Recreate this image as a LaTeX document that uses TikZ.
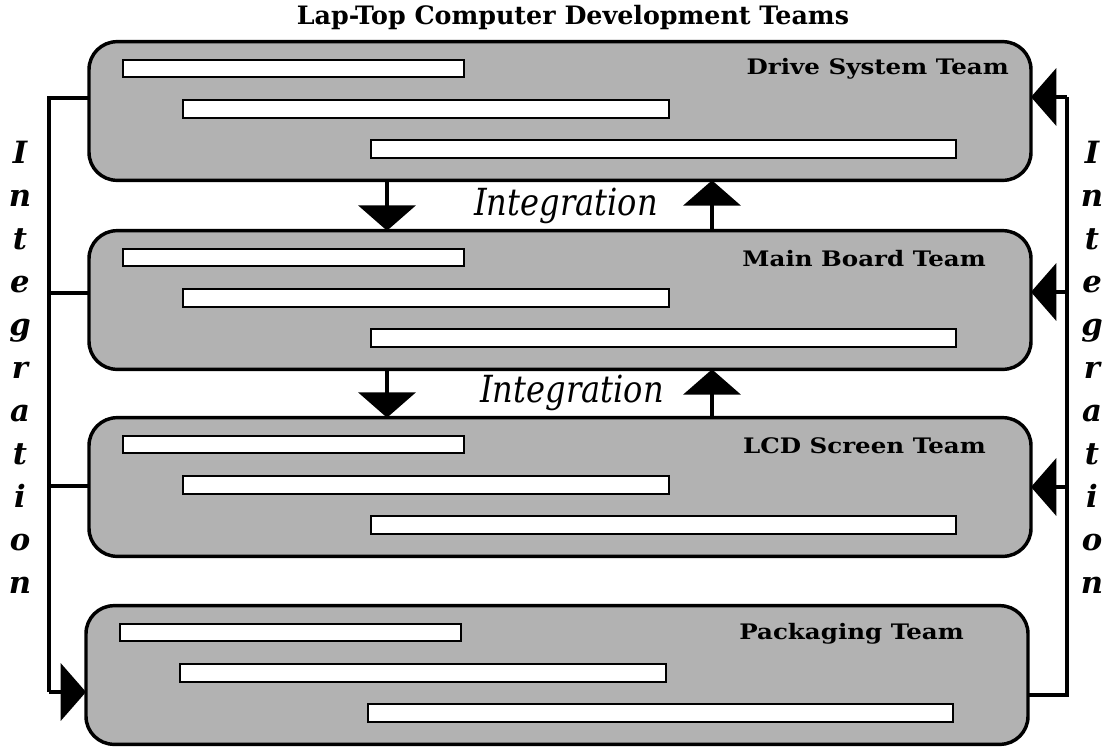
\documentclass[tikz,border=0pt]{standalone}
\usepackage{fontspec}
\setmainfont{DejaVu Serif}
\newfontfamily\lblfont[FakeStretch=1.15]{DejaVu Serif}
\newfontfamily\intfont[FakeStretch=0.86]{DejaVu Serif}
\usetikzlibrary{arrows.meta,calc}
\begin{document}
\begin{tikzpicture}[x=0.75pt,y=-0.75pt,
  team/.style={draw=black, line width=2.6pt, fill=black!30, rounded corners=21pt,
    minimum width=706.5pt, minimum height=104pt, inner sep=0pt, outer sep=0pt},
  bar/.style={draw=black, line width=1.6pt, fill=white},
  conn/.style={line width=2.3pt},
  vtri/.style={conn,-{Triangle[width=43pt,length=19pt]}},
  htri/.style={conn,-{Triangle[width=43pt,length=19pt]}},
  lbl/.style={font=\lblfont\bfseries\fontsize{16pt}{18pt}\selectfont, inner sep=0pt, anchor=east},
  integ/.style={font=\intfont\itshape\fontsize{28pt}{32pt}\selectfont, inner sep=0pt, anchor=base},
  vl/.style={font=\bfseries\itshape\fontsize{23pt}{26pt}\selectfont, inner sep=0pt, anchor=base},
  ttl/.style={font=\bfseries\fontsize{19pt}{22pt}\selectfont, inner sep=0pt}
]
\useasboundingbox (0,0) rectangle (1103,747);

\node[ttl] (title) at (573,18) {Lap-Top Computer Development Teams};

\node[team] (b1) at (560,111) {};
\node[team] (b2) at (560,300) {};
\node[team] (b3) at (560,487) {};
\node[team] (b4) at (557,675) {};

\foreach \b in {b1,b2,b3,b4}{
  \draw[bar] ($(\b.north west)+(34,18)$) rectangle +(341,17);
  \draw[bar] ($(\b.north west)+(94,58)$) rectangle +(486,18);
  \draw[bar] ($(\b.north west)+(282,98)$) rectangle +(585,18);
}

\node[lbl] (t1) at ($(b1.north east)+(-22,27)$) {Drive System Team};
\node[lbl] (t2) at ($(b2.north east)+(-45,28)$) {Main Board Team};
\node[lbl] (t3) at ($(b3.north east)+(-45,28)$) {LCD Screen Team};
\node[lbl] (t4) at ($(b4.north east)+(-64,28)$) {Packaging Team};

% vertical integration arrows
\coordinate (dx) at (387,0);
\coordinate (ux) at (712,0);
\draw[vtri] (b1.south -| dx) -- (b2.north -| dx);
\draw[vtri] (b2.north -| ux) -- (b1.south -| ux);
\draw[vtri] (b2.south -| dx) -- (b3.north -| dx);
\draw[vtri] (b3.north -| ux) -- (b2.south -| ux);
\node[integ] (i1) at (566,215) {Integration};
\node[integ] (i2) at (572,402) {Integration};

% left integration line
\coordinate (jl1) at (49,98);
\coordinate (jl2) at (49,293);
\coordinate (jl3) at (49,486);
\coordinate (jl4) at (49,692);
\draw[conn,line join=miter] (b1.west |- jl1) -- (jl1) -- (jl4);
\draw[htri] (jl4) -- (b4.west |- jl4);
\draw[conn] (jl2) -- (b2.west |- jl2);
\draw[conn] (jl3) -- (b3.west |- jl3);

% right integration line
\coordinate (jr1) at (1067,97);
\coordinate (jr2) at (1067,292);
\coordinate (jr3) at (1067,487);
\coordinate (jr4) at (1067,695);
\draw[conn,line join=miter] (b4.east |- jr4) -- (jr4) -- (jr1);
\draw[htri] (jr1) -- (b1.east |- jr1);
\draw[htri] (jr2) -- (b2.east |- jr2);
\draw[htri] (jr3) -- (b3.east |- jr3);

\foreach \ch [count=\i] in {I,n,t,e,g,r,a,t,i,o,n}{
  \node[vl] (lv\i) at (20,{163+43*(\i-1)}) {\ch};
  \node[vl] (rv\i) at (1092,{163+43*(\i-1)}) {\ch};
}
\end{tikzpicture}
\end{document}
